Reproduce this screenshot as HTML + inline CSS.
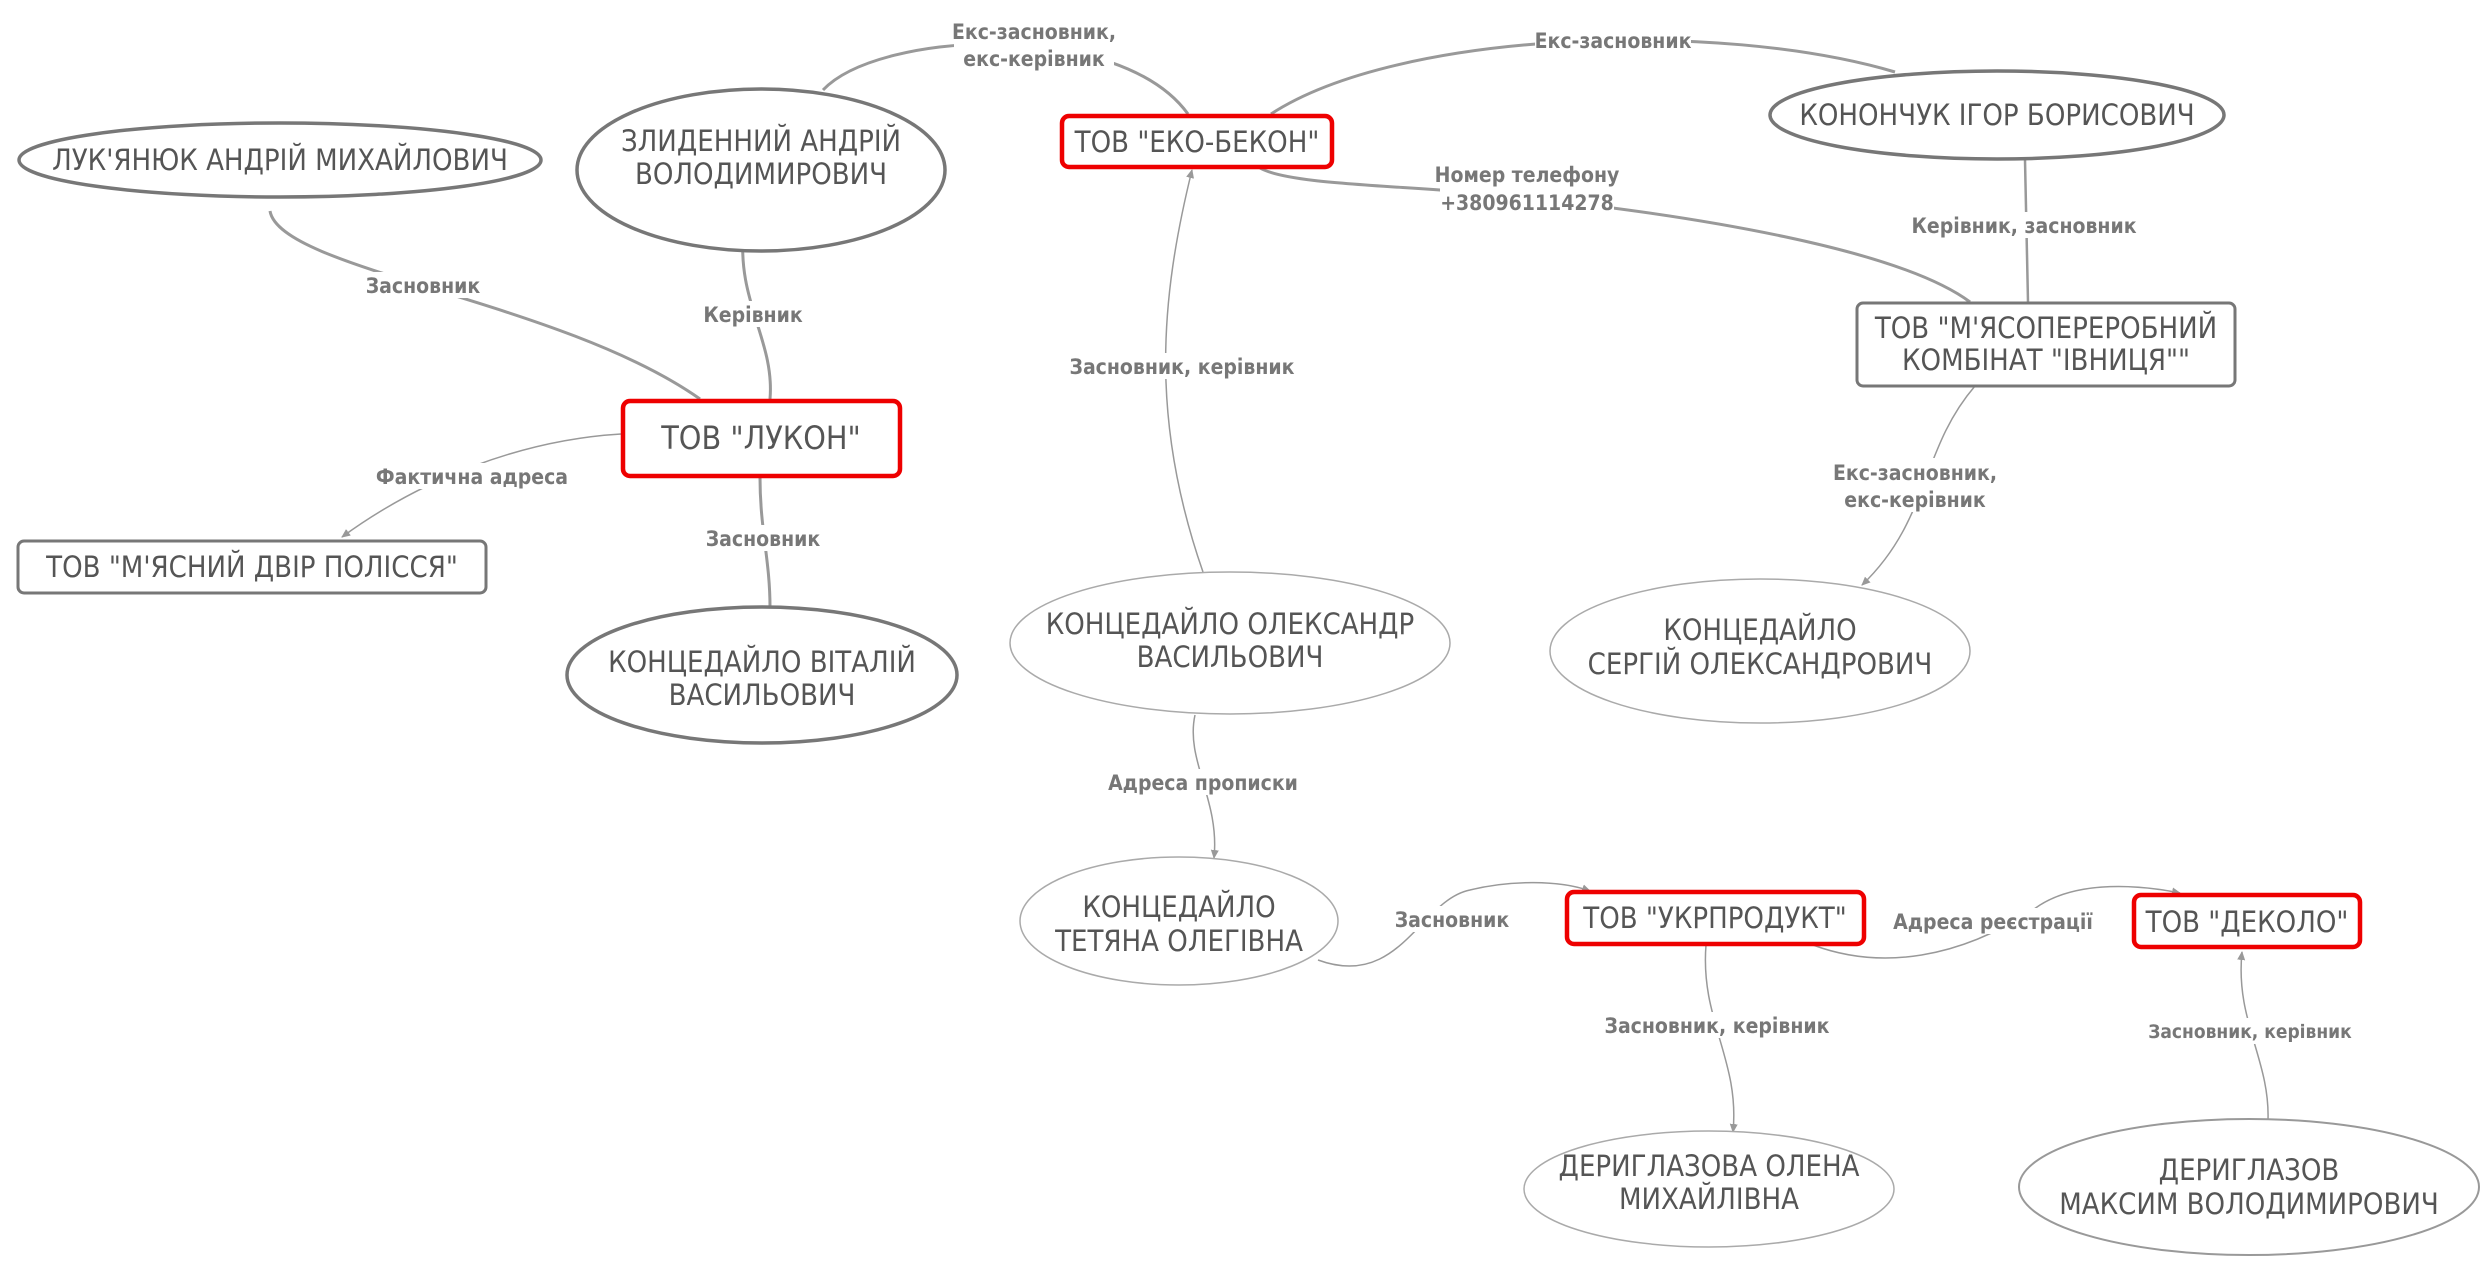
<!DOCTYPE html>
<html><head><meta charset="utf-8"><style>
html,body{margin:0;padding:0;background:#fff;}
svg{display:block;}
.n{font-family:"Liberation Sans Narrow","DejaVu Sans Condensed","Liberation Sans",sans-serif;font-size:29px;fill:#555;text-anchor:middle;}
.l{font-family:"Liberation Sans Narrow","DejaVu Sans Condensed","Liberation Sans",sans-serif;font-size:21px;font-weight:bold;fill:#777;text-anchor:middle;}
.e{fill:none;stroke:#999;}
</style></head><body>
<svg width="2491" height="1272" viewBox="0 0 2491 1272" xmlns="http://www.w3.org/2000/svg">
<defs><marker id="a" markerWidth="10" markerHeight="10" refX="8" refY="5" orient="auto" markerUnits="userSpaceOnUse"><path d="M0,1 L9,5 L0,9 z" fill="#999"/></marker></defs>
<!-- edges -->
<g class="e">
<path d="M270 211 C280 270 560 300 700 399" stroke-width="3"/>
<path d="M744 227 C735 300 775 340 770 399" stroke-width="3"/>
<path d="M621 434 C520 440 420 480 342 537" stroke-width="1.5" marker-end="url(#a)"/>
<path d="M760 477 C760 530 770 560 770 607" stroke-width="3"/>
<path d="M823 90 C880 30 1120 20 1188 114" stroke-width="3"/>
<path d="M1271 114 C1400 30 1720 20 1895 72" stroke-width="3"/>
<path d="M1260 168 C1290 185 1400 185 1500 195 C1700 215 1900 250 1970 302" stroke-width="3"/>
<path d="M2025 160 L2028 302" stroke-width="2.5"/>
<path d="M1975 386 C1920 450 1930 520 1862 585" stroke-width="1.5" marker-end="url(#a)"/>
<path d="M1203 572 C1150 420 1160 300 1192 170" stroke-width="1.5" marker-end="url(#a)"/>
<path d="M1195 715 C1185 760 1220 800 1214 858" stroke-width="1.5" marker-end="url(#a)"/>
<path d="M1318 960 C1400 990 1420 900 1470 890 C1510 880 1560 880 1590 891" stroke-width="1.5" marker-end="url(#a)"/>
<path d="M1813 945 C1880 970 1960 960 2040 905 C2080 880 2140 885 2180 893" stroke-width="1.5" marker-end="url(#a)"/>
<path d="M1706 945 C1700 1020 1740 1060 1733 1132" stroke-width="1.5" marker-end="url(#a)"/>
<path d="M2268 1120 C2270 1060 2235 1020 2242 952" stroke-width="1.5" marker-end="url(#a)"/>
</g>
<!-- labels -->
<g>
<rect x="362" y="272" width="122" height="26" fill="#fff"/><text class="l" x="423" y="293">Засновник</text>
<rect x="705" y="301" width="96" height="26" fill="#fff"/><text class="l" x="753" y="322">Керівник</text>
<rect x="382" y="463" width="180" height="26" fill="#fff"/><text class="l" x="472" y="484">Фактична адреса</text>
<rect x="702" y="525" width="122" height="26" fill="#fff"/><text class="l" x="763" y="546">Засновник</text>
<rect x="954" y="18" width="160" height="54" fill="#fff"/><text class="l" x="1034" y="39">Екс-засновник,</text><text class="l" x="1034" y="66">екс-керівник</text>
<rect x="1535" y="27" width="156" height="26" fill="#fff"/><text class="l" x="1613" y="48">Екс-засновник</text>
<rect x="1440" y="160" width="174" height="54" fill="#fff"/><text class="l" x="1527" y="182">Номер телефону</text><text class="l" x="1527" y="210">+380961114278</text>
<rect x="1915" y="212" width="218" height="26" fill="#fff"/><text class="l" x="2024" y="233">Керівник, засновник</text>
<rect x="1835" y="458" width="160" height="54" fill="#fff"/><text class="l" x="1915" y="480">Екс-засновник,</text><text class="l" x="1915" y="507">екс-керівник</text>
<rect x="1054" y="353" width="256" height="26" fill="#fff"/><text class="l" x="1182" y="374">Засновник, керівник</text>
<rect x="1110" y="769" width="186" height="26" fill="#fff"/><text class="l" x="1203" y="790">Адреса прописки</text>
<rect x="1392" y="906" width="120" height="26" fill="#fff"/><text class="l" x="1452" y="927">Засновник</text>
<rect x="1896" y="908" width="194" height="26" fill="#fff"/><text class="l" x="1993" y="929">Адреса реєстрації</text>
<rect x="1590" y="1012" width="254" height="26" fill="#fff"/><text class="l" x="1717" y="1033">Засновник, керівник</text>
<rect x="2140" y="1018" width="220" height="26" fill="#fff"/><text class="l" x="2250" y="1038" style="font-size:19px">Засновник, керівник</text>
</g>
<!-- nodes -->
<g fill="#fff">
<ellipse cx="280" cy="160" rx="261" ry="37" stroke="#777" stroke-width="3.5"/>
<ellipse cx="761" cy="170" rx="184" ry="81" stroke="#777" stroke-width="3.5"/>
<rect x="623" y="401" width="277" height="75" rx="7" stroke="#e00" stroke-width="4.5"/>
<rect x="18" y="541" width="468" height="52" rx="6" stroke="#777" stroke-width="3"/>
<ellipse cx="762" cy="675" rx="195" ry="68" stroke="#777" stroke-width="3.5"/>
<rect x="1062" y="116" width="270" height="51" rx="7" stroke="#e00" stroke-width="4.5"/>
<ellipse cx="1997" cy="115" rx="227" ry="44" stroke="#777" stroke-width="3.5"/>
<rect x="1857" y="303" width="378" height="83" rx="6" stroke="#777" stroke-width="3"/>
<ellipse cx="1230" cy="643" rx="220" ry="71" stroke="#aaa" stroke-width="1.5"/>
<ellipse cx="1760" cy="651" rx="210" ry="72" stroke="#aaa" stroke-width="1.5"/>
<ellipse cx="1179" cy="921" rx="159" ry="64" stroke="#aaa" stroke-width="1.5"/>
<rect x="1567" y="892" width="297" height="52" rx="7" stroke="#e00" stroke-width="4.5"/>
<rect x="2134" y="895" width="226" height="52" rx="7" stroke="#e00" stroke-width="4.5"/>
<ellipse cx="1709" cy="1189" rx="185" ry="58" stroke="#aaa" stroke-width="1.5"/>
<ellipse cx="2249" cy="1187" rx="230" ry="68" stroke="#999" stroke-width="2"/>
</g>
<g>
<text class="n" x="280" y="170">ЛУК'ЯНЮК АНДРІЙ МИХАЙЛОВИЧ</text>
<text class="n" x="761" y="151">ЗЛИДЕННИЙ АНДРІЙ</text><text class="n" x="761" y="184">ВОЛОДИМИРОВИЧ</text>
<text class="n" x="761" y="449" style="font-size:32px">ТОВ "ЛУКОН"</text>
<text class="n" x="252" y="577">ТОВ "М'ЯСНИЙ ДВІР ПОЛІССЯ"</text>
<text class="n" x="762" y="672">КОНЦЕДАЙЛО ВІТАЛІЙ</text><text class="n" x="762" y="705">ВАСИЛЬОВИЧ</text>
<text class="n" x="1197" y="152">ТОВ "ЕКО-БЕКОН"</text>
<text class="n" x="1997" y="125">КОНОНЧУК ІГОР БОРИСОВИЧ</text>
<text class="n" x="2046" y="338">ТОВ "М'ЯСОПЕРЕРОБНИЙ</text><text class="n" x="2046" y="370">КОМБІНАТ "ІВНИЦЯ""</text>
<text class="n" x="1230" y="634">КОНЦЕДАЙЛО ОЛЕКСАНДР</text><text class="n" x="1230" y="667">ВАСИЛЬОВИЧ</text>
<text class="n" x="1760" y="640">КОНЦЕДАЙЛО</text><text class="n" x="1760" y="674">СЕРГІЙ ОЛЕКСАНДРОВИЧ</text>
<text class="n" x="1179" y="917">КОНЦЕДАЙЛО</text><text class="n" x="1179" y="951">ТЕТЯНА ОЛЕГІВНА</text>
<text class="n" x="1715" y="928">ТОВ "УКРПРОДУКТ"</text>
<text class="n" x="2247" y="932">ТОВ "ДЕКОЛО"</text>
<text class="n" x="1709" y="1176">ДЕРИГЛАЗОВА ОЛЕНА</text><text class="n" x="1709" y="1209">МИХАЙЛІВНА</text>
<text class="n" x="2249" y="1180">ДЕРИГЛАЗОВ</text><text class="n" x="2249" y="1214">МАКСИМ ВОЛОДИМИРОВИЧ</text>
</g>
</svg>
</body></html>
